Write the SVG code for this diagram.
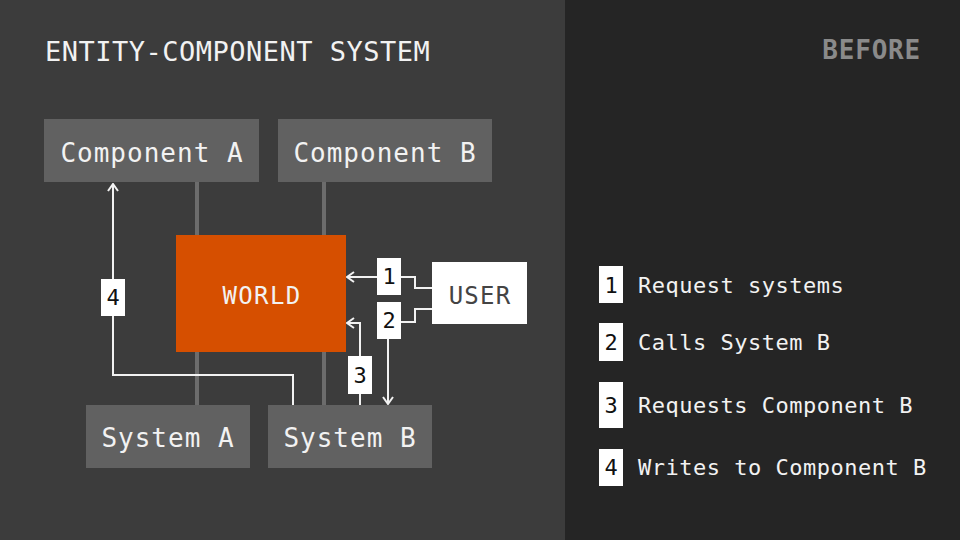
<svg xmlns="http://www.w3.org/2000/svg" width="960" height="540" viewBox="0 0 960 540">
<defs>
<style>
.mono{font-family:"DejaVu Sans Mono","Liberation Mono",monospace;}
.title{font-size:27px;letter-spacing:0.5px;fill:#f2f2f2;}
.box{fill:#616161;}
.boxtxt{font-size:26px;letter-spacing:1px;fill:#f2f2f2;text-anchor:middle;}
.conn{fill:none;stroke:#f2f2f2;stroke-width:2;}
.tag{fill:#ffffff;}
.tagtxt{font-size:22px;fill:#111;text-anchor:middle;}
.legend{font-size:22px;letter-spacing:0.5px;fill:#f2f2f2;}
.link{stroke:#6c6c6c;stroke-width:4;}
</style>
<marker id="arr" viewBox="0 0 12 12" refX="11" refY="6" markerWidth="12" markerHeight="12" markerUnits="userSpaceOnUse" orient="auto">
<path d="M4,1 L11,6 L4,11" fill="none" stroke="#f2f2f2" stroke-width="2"/>
</marker>
</defs>
<rect x="0" y="0" width="565" height="540" fill="#3c3c3c"/>
<rect x="565" y="0" width="395" height="540" fill="#252525"/>
<text class="mono title" x="45" y="61">ENTITY-COMPONENT SYSTEM</text>
<text class="mono" x="921" y="59" text-anchor="end" font-size="26" letter-spacing="0.8" font-weight="bold" fill="#8a8a8a">BEFORE</text>

<g id="structure">
<line class="link" x1="197" y1="182" x2="197" y2="405"/>
<line class="link" x1="324" y1="182" x2="324" y2="405"/>
</g>

<g id="component-a">
<rect class="box" x="44" y="119" width="215" height="63"/>
<text class="mono boxtxt" x="152" y="162">Component A</text>
</g>
<g id="component-b">
<rect class="box" x="278" y="119" width="214" height="63"/>
<text class="mono boxtxt" x="385" y="162">Component B</text>
</g>
<g id="system-a">
<rect class="box" x="86" y="405" width="164" height="63"/>
<text class="mono boxtxt" x="168" y="447">System A</text>
</g>
<g id="system-b">
<rect class="box" x="268" y="405" width="164" height="63"/>
<text class="mono boxtxt" x="350" y="447">System B</text>
</g>
<g id="world">
<rect x="176" y="235" width="170" height="117" fill="#d64f00"/>
<text class="mono" x="262" y="304" font-size="24" letter-spacing="1.4" fill="#f2f2f2" text-anchor="middle">WORLD</text>
</g>
<g id="user">
<rect x="432" y="262" width="95" height="62" fill="#ffffff"/>
<text class="mono" x="480" y="304" font-size="24" letter-spacing="1.2" fill="#444444" text-anchor="middle">USER</text>
</g>

<g id="connectors">
<path class="conn" d="M432,288 H415 V277 H347" marker-end="url(#arr)"/>
<path class="conn" d="M432,309 H415 V322 H388 V404" marker-end="url(#arr)"/>
<path class="conn" d="M360,405 V323 H347" marker-end="url(#arr)"/>
<path class="conn" d="M293,405 V375 H113 V184" marker-end="url(#arr)"/>
</g>

<g id="tag-1"><rect class="tag" x="377" y="258" width="24" height="37"/><text class="mono tagtxt" x="389" y="284">1</text></g>
<g id="tag-2"><rect class="tag" x="377" y="302" width="24" height="37"/><text class="mono tagtxt" x="389" y="328">2</text></g>
<g id="tag-3"><rect class="tag" x="348" y="356" width="24" height="38"/><text class="mono tagtxt" x="360" y="383">3</text></g>
<g id="tag-4"><rect class="tag" x="101" y="279" width="24" height="37"/><text class="mono tagtxt" x="113" y="305">4</text></g>

<g id="legend">
<rect class="tag" x="599" y="266" width="24" height="37"/><text class="mono tagtxt" x="611" y="293">1</text>
<text class="mono legend" x="638" y="293">Request systems</text>
<rect class="tag" x="599" y="323" width="24" height="38"/><text class="mono tagtxt" x="611" y="350">2</text>
<text class="mono legend" x="638" y="350">Calls System B</text>
<rect class="tag" x="599" y="382" width="24" height="46"/><text class="mono tagtxt" x="611" y="413">3</text>
<text class="mono legend" x="638" y="413">Requests Component B</text>
<rect class="tag" x="599" y="449" width="24" height="37"/><text class="mono tagtxt" x="611" y="475">4</text>
<text class="mono legend" x="638" y="475">Writes to Component B</text>
</g>
</svg>
